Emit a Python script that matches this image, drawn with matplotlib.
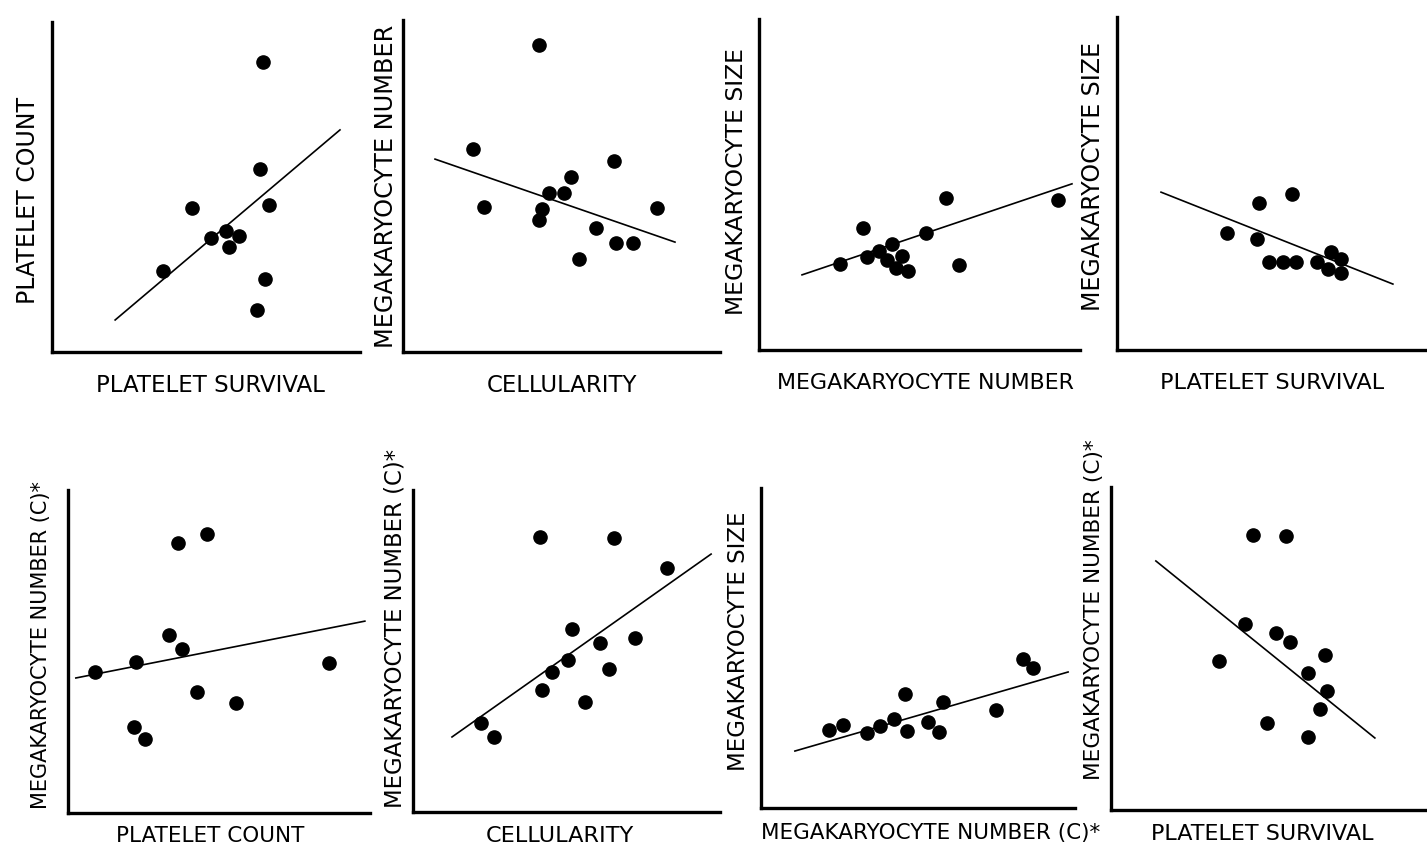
import numpy as np
import matplotlib.pyplot as plt

# values, arbitrary units 0-100 on each axis
p1_x = [68.5, 67.5, 70.5, 45.5, 51.6, 56.5, 60.7, 57.5, 36.0, 69.2, 66.6]
p1_y = [87.9, 55.5, 44.5, 43.6, 34.5, 36.7, 35.2, 31.8, 24.5, 22.1, 12.7]
p1_fit_x = [20.5, 93.5]
p1_fit_y = [9.7, 67.3]

p2_x = [42.9, 22.1, 25.6, 66.6, 53.0, 46.1, 50.8, 43.8, 42.9, 80.1, 60.9, 67.2, 72.6, 55.5]
p2_y = [92.5, 61.1, 43.7, 57.5, 52.7, 47.9, 47.9, 43.1, 39.8, 43.4, 37.3, 32.8, 32.8, 28.0]
p2_fit_x = [10.1, 85.8]
p2_fit_y = [58.1, 33.1]

p3_x = [58.3, 93.1, 32.4, 52.0, 41.4, 37.4, 33.6, 25.2, 44.5, 39.9, 42.7, 46.4, 62.3]
p3_y = [45.9, 45.3, 36.9, 35.3, 32.0, 29.9, 28.1, 26.0, 28.4, 27.2, 24.8, 23.9, 25.7]
p3_fit_x = [13.4, 97.5]
p3_fit_y = [22.7, 50.2]

p4_x = [56.5, 45.8, 35.5, 45.2, 49.0, 53.5, 57.7, 64.5, 69.0, 72.3, 68.1, 72.3]
p4_y = [46.8, 44.1, 35.1, 33.3, 26.4, 26.4, 26.4, 26.4, 29.4, 27.3, 24.3, 23.1]
p4_fit_x = [14.2, 89.0]
p4_fit_y = [47.4, 19.8]

p5_x = [8.9, 22.5, 33.4, 37.7, 36.4, 46.0, 86.4, 42.7, 55.6, 21.9, 25.5]
p5_y = [43.7, 46.7, 55.1, 50.8, 83.6, 86.4, 46.4, 37.5, 34.1, 26.6, 22.9]
p5_fit_x = [2.6, 98.3]
p5_fit_y = [41.8, 59.4]

p6_x = [41.4, 65.5, 82.7, 51.8, 60.9, 72.3, 50.5, 45.3, 63.8, 42.0, 56.0, 22.1, 26.4]
p6_y = [85.4, 85.1, 75.8, 56.8, 52.5, 54.0, 47.2, 43.5, 44.4, 37.9, 34.2, 27.6, 23.3]
p6_fit_x = [12.7, 97.1]
p6_fit_y = [23.3, 80.1]

p7_x = [21.7, 26.1, 33.8, 37.9, 42.4, 45.9, 46.5, 53.2, 56.7, 58.0, 74.8, 83.4, 86.6]
p7_y = [24.4, 25.9, 23.4, 25.6, 27.8, 35.6, 24.1, 26.9, 23.8, 33.1, 30.6, 46.6, 43.8]
p7_fit_x = [10.8, 97.8]
p7_fit_y = [17.8, 42.5]

p8_x = [44.9, 55.4, 42.4, 52.2, 56.6, 67.7, 34.2, 62.3, 68.4, 66.1, 49.4, 62.3]
p8_y = [85.1, 84.8, 57.6, 54.8, 52.0, 48.0, 46.1, 42.4, 36.8, 31.3, 26.9, 22.6]
p8_fit_x = [14.2, 83.5]
p8_fit_y = [77.1, 22.3]

x_labels = ["PLATELET SURVIVAL", "CELLULARITY", "MEGAKARYOCYTE NUMBER", "PLATELET SURVIVAL",
            "PLATELET COUNT", "CELLULARITY", "MEGAKARYOCYTE NUMBER (C)*", "PLATELET SURVIVAL"]
y_labels = ["PLATELET COUNT", "MEGAKARYOCYTE NUMBER", "MEGAKARYOCYTE SIZE", "MEGAKARYOCYTE SIZE",
            "MEGAKARYOCYTE NUMBER (C)*", "MEGAKARYOCYTE NUMBER (C)*", "MEGAKARYOCYTE SIZE",
            "MEGAKARYOCYTE NUMBER (C)*"]

panels = [
    (p1_x, p1_y, p1_fit_x, p1_fit_y),
    (p2_x, p2_y, p2_fit_x, p2_fit_y),
    (p3_x, p3_y, p3_fit_x, p3_fit_y),
    (p4_x, p4_y, p4_fit_x, p4_fit_y),
    (p5_x, p5_y, p5_fit_x, p5_fit_y),
    (p6_x, p6_y, p6_fit_x, p6_fit_y),
    (p7_x, p7_y, p7_fit_x, p7_fit_y),
    (p8_x, p8_y, p8_fit_x, p8_fit_y),
]

W, H = 1427, 847
# axes boxes in pixels: left, right, top, bottom
boxes = [(52, 360, 22, 352), (403, 720, 20, 352), (759, 1080, 19, 350), (1117, 1427, 17, 350),
         (68, 370, 490, 813), (413, 720, 490, 812), (761, 1075, 488, 808), (1111, 1427, 487, 810)]
xlab_pos = [(0.516, -0.10), (0.50, -0.10), (0.52, -0.10), (0.50, -0.10),
            (0.47, -0.072), (0.48, -0.074), (0.54, -0.078), (0.48, -0.074)]
ylab_pos = [(-0.078, 0.46), (-0.054, 0.50), (-0.069, 0.51), (-0.077, 0.52),
            (-0.089, 0.52), (-0.059, 0.57), (-0.073, 0.52), (-0.054, 0.62)]
xlab_size = [16.5, 16.4, 15.9, 16.1, 15.5, 16.1, 15.5, 16.0]
ylab_size = [17.0, 17.3, 16.9, 17.0, 15.0, 16.4, 16.5, 15.6]

plt.rcParams['font.family'] = ['DejaVu Sans']
fig = plt.figure(figsize=(W / 100, H / 100), dpi=100)

for i, (xs, ys, fx, fy) in enumerate(panels):
    l, r, t, b = boxes[i]
    ax = fig.add_axes([l / W, 1 - b / H, (r - l) / W, (b - t) / H])
    ax.plot(fx, fy, color='black', lw=1.2)
    ax.plot(xs, ys, 'o', color='black', markersize=9.5)
    ax.set_xlim(0, 100)
    ax.set_ylim(0, 100)
    for side in ['top', 'right']:
        ax.spines[side].set_visible(False)
    for side in ['left', 'bottom']:
        ax.spines[side].set_linewidth(2.4)
    ax.set_xticks([])
    ax.set_yticks([])
    ax.set_xlabel(x_labels[i], fontsize=xlab_size[i], va='center')
    ax.set_ylabel(y_labels[i], fontsize=ylab_size[i], va='center')
    ax.xaxis.set_label_coords(*xlab_pos[i])
    ax.yaxis.set_label_coords(*ylab_pos[i])

fig.savefig('out.png', dpi=100)
